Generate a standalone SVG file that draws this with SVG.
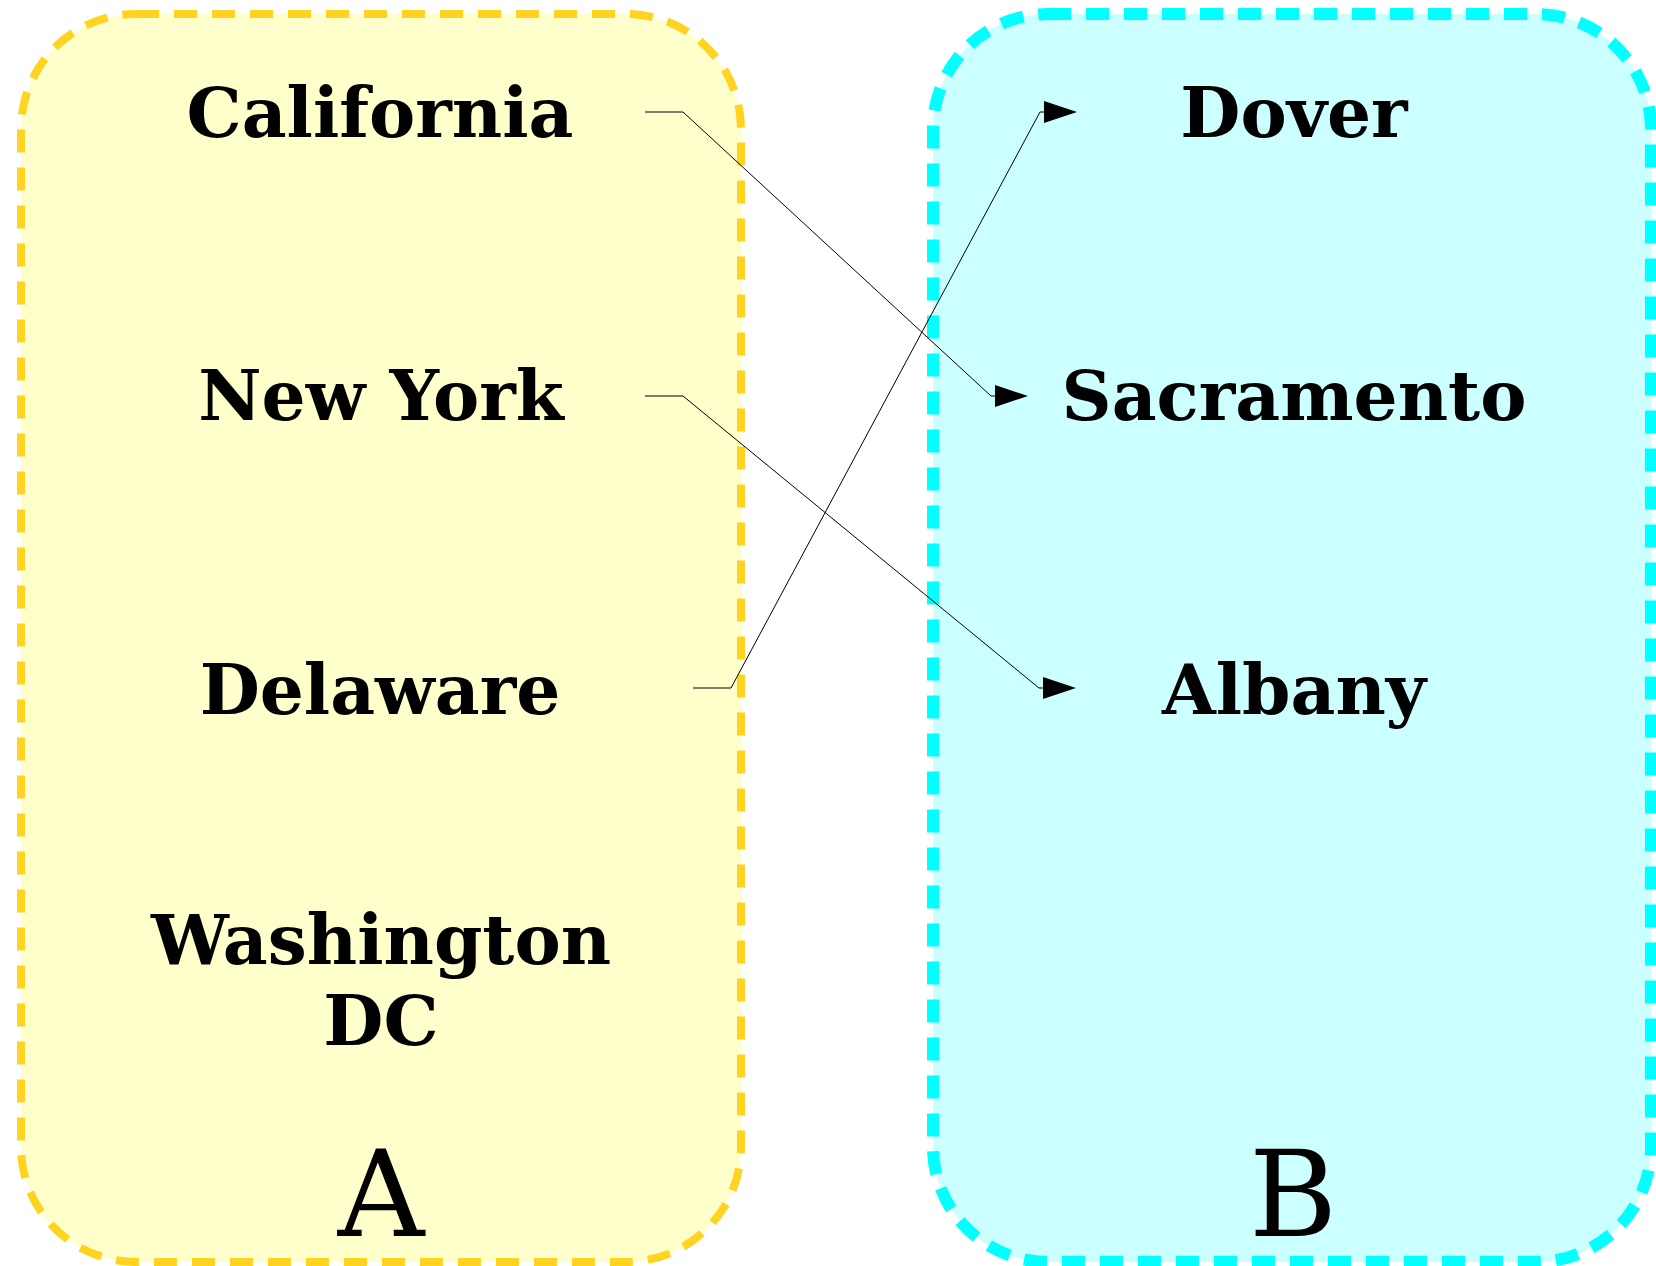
<svg xmlns="http://www.w3.org/2000/svg" width="1656" height="1266" viewBox="0 0 1656 1266">
<style>
.lbl{font-family:"DejaVu Serif","Liberation Serif",serif;font-weight:bold;font-size:69.33px;fill:#000;text-anchor:middle}
.set{font-family:"DejaVu Serif","Liberation Serif",serif;font-size:120px;fill:#000;text-anchor:middle}
.edge{fill:none;stroke:#000;stroke-width:1}
</style>
<defs>
<marker id="arr" markerUnits="userSpaceOnUse" markerWidth="34" markerHeight="24" viewBox="0 -12 34 24" refX="0" refY="0" orient="auto">
<path d="M0,-11 L33,0 L0,11 z" fill="#000"/>
</marker>
</defs>
<g id="setA">
<rect x="21" y="14" width="720" height="1248" rx="115" ry="115" fill="#FFFFCC" stroke="#FFD320" stroke-width="8" stroke-dasharray="23 15"/>
<text class="set" x="381" y="1236">A</text>
</g>
<g id="setB">
<rect x="933" y="14" width="718" height="1248" rx="115" ry="115" fill="#CCFFFF" stroke="#00FFFF" stroke-width="12" stroke-dasharray="23 15"/>
<text class="set" x="1293" y="1236">B</text>
</g>
<g id="california"><text class="lbl" x="380" y="137">California</text></g>
<g id="newyork"><text class="lbl" x="381" y="420">New York</text></g>
<g id="delaware"><text class="lbl" x="380" y="714">Delaware</text></g>
<g id="washington"><text class="lbl" x="381" y="964">Washington</text><text class="lbl" x="381" y="1045">DC</text></g>
<g id="dover"><text class="lbl" x="1294" y="137">Dover</text></g>
<g id="sacramento"><text class="lbl" x="1294" y="420">Sacramento</text></g>
<g id="albany"><text class="lbl" x="1294" y="714">Albany</text></g>
<g id="connectors">
<path class="edge" d="M645,112 H683 L991,396 H995" marker-end="url(#arr)"/>
<path class="edge" d="M645,396 H683 L1039,688 H1043" marker-end="url(#arr)"/>
<path class="edge" d="M693,688 H731 L1040,112 H1044" marker-end="url(#arr)"/>
</g>
</svg>
